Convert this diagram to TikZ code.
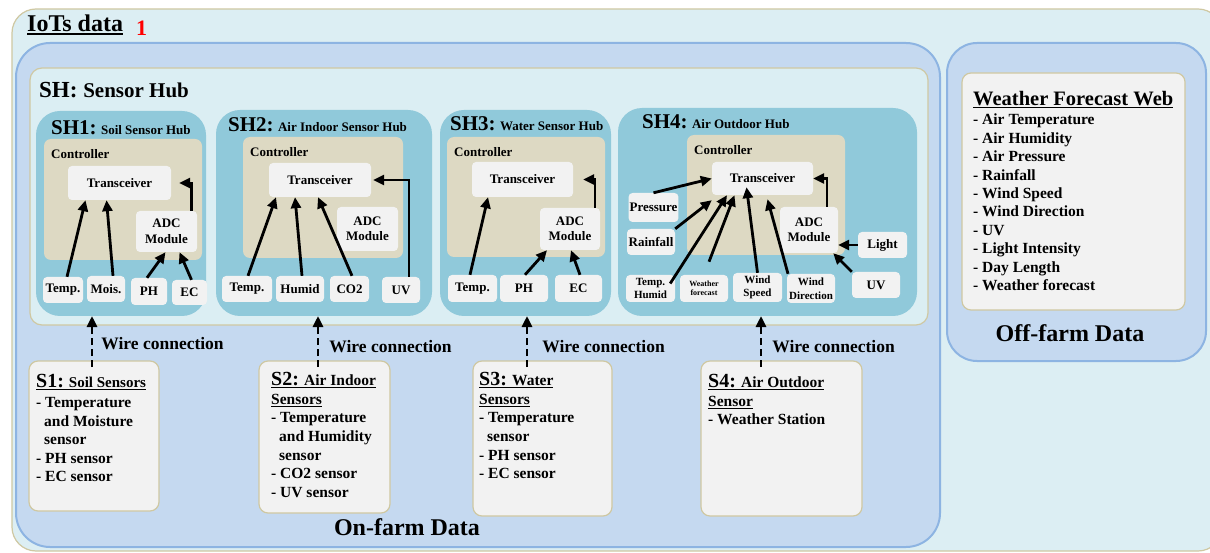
\documentclass[tikz,border=0pt]{standalone}
\usepackage{fontspec}
\setmainfont{Liberation Serif}
\usetikzlibrary{arrows.meta}

\definecolor{iotfill}{HTML}{DCEEF3}
\definecolor{tanline}{HTML}{CFC8A2}
\definecolor{farmfill}{HTML}{C5D9F0}
\definecolor{farmline}{HTML}{8DB4E2}
\definecolor{hubfill}{HTML}{DBEEF3}
\definecolor{hubteal}{HTML}{90C9DA}
\definecolor{ctrlfill}{HTML}{DDD9C3}
\definecolor{unitfill}{HTML}{F2F2F2}

\newcommand{\fsz}[2]{\fontsize{#1}{#2}\selectfont}
\newcommand{\uln}[2][1.2pt]{\vtop{\hbox{#2}\kern1.5pt\hrule height #1}}

\tikzset{
  area/.style={anchor=north west, inner sep=0pt, outer sep=0pt},
  iotbox/.style={area, fill=iotfill, draw=tanline, line width=1.2pt, rounded corners=24pt},
  farmbox/.style={area, fill=farmfill, draw=farmline, line width=2pt, rounded corners=34pt},
  hubarea/.style={area, fill=hubfill, draw=tanline, line width=1.2pt, rounded corners=12pt},
  hubbox/.style={area, fill=hubteal, rounded corners=24pt},
  ctrlbox/.style={area, fill=ctrlfill, rounded corners=7pt},
  sensbox/.style={area, fill=unitfill, draw=tanline, line width=1.2pt, rounded corners=9pt},
  unit/.style={fill=unitfill, rounded corners=4pt, inner sep=1pt, align=center, font=\bfseries\fsz{13}{15.5}},
  txt/.style={inner sep=0pt, font=\bfseries, align=left},
  arr/.style={-{Triangle[length=11pt,width=10pt]}, line width=2.8pt},
  wire/.style={-{Triangle[length=11pt,width=10pt]}, line width=2.8pt, dash pattern=on 7pt off 4pt},
}

\begin{document}
\begin{tikzpicture}[x=1pt, y=-1pt]
	\useasboundingbox[fill=white] (0,0) rectangle (1210,553);

	\node[iotbox, minimum width=1210pt, minimum height=542pt] (iot) at (12,9) {};
	\node[txt, anchor=west, font=\bfseries\fsz{24}{24}] (iottitle) at (27,25) {\uln[1.6pt]{IoTs data}};
	\node[txt, anchor=west, text=red, font=\bfseries\fsz{22}{22}] (iotnum) at (136,28) {1};

	\node[farmbox, minimum width=924pt, minimum height=504pt] (onfarm) at (16,43) {};
	\node[farmbox, minimum width=259pt, minimum height=318pt, rounded corners=30pt] (offfarm) at (947,43) {};

	\node[hubarea, minimum width=898pt, minimum height=257pt] (hub) at (30,68) {};
	\node[txt, anchor=west] (hubtitle) at (39,90) {\fsz{23}{23}SH: \fsz{21}{21}Sensor Hub};

	\node[hubbox, minimum width=170pt, minimum height=205pt] (sh1) at (36,111) {};
	\node[hubbox, minimum width=216pt, minimum height=206pt] (sh2) at (216,110) {};
	\node[hubbox, minimum width=171pt, minimum height=206pt] (sh3) at (440,110) {};
	\node[hubbox, minimum width=299pt, minimum height=208pt] (sh4) at (618,108) {};

	\node[txt, anchor=west] (sh1t) at (51,128) {\fsz{21}{21}SH1:\fsz{13}{13} Soil Sensor Hub};
	\node[txt, anchor=west] (sh2t) at (228,125) {\fsz{21}{21}SH2:\fsz{13}{13} Air Indoor Sensor Hub};
	\node[txt, anchor=west] (sh3t) at (450,124) {\fsz{21}{21}SH3:\fsz{13}{13} Water Sensor Hub};
	\node[txt, anchor=west] (sh4t) at (642,122) {\fsz{21}{21}SH4:\fsz{13}{13} Air Outdoor Hub};

	\node[ctrlbox, minimum width=158pt, minimum height=121pt] (ctrl1) at (44,139) {};
	\node[ctrlbox, minimum width=160pt, minimum height=121pt] (ctrl2) at (243,137) {};
	\node[ctrlbox, minimum width=158pt, minimum height=120pt] (ctrl3) at (447,137) {};
	\node[ctrlbox, minimum width=158pt, minimum height=120pt] (ctrl4) at (687,135) {};
	\foreach \c in {1,...,4}
		\node[txt, anchor=west, font=\bfseries\fsz{13}{13}] (ctrl\c t) at ([xshift=7pt,yshift=-15.5pt]ctrl\c.north west) {Controller};

	\node[unit, minimum width=103pt, minimum height=34pt] (trx1) at (119.5,183) {Transceiver};
	\node[unit, minimum width=102pt, minimum height=34pt] (trx2) at (320,180) {Transceiver};
	\node[unit, minimum width=101pt, minimum height=35pt] (trx3) at (522.5,179.5) {Transceiver};
	\node[unit, minimum width=101pt, minimum height=33pt] (trx4) at (762.5,178.5) {Transceiver};

	\node[unit, minimum width=61pt, minimum height=41pt] (adc1) at (166.5,231.5) {ADC\\Module};
	\node[unit, minimum width=61pt, minimum height=44pt] (adc2) at (367.5,229) {ADC\\Module};
	\node[unit, minimum width=60pt, minimum height=42pt] (adc3) at (570,229) {ADC\\Module};
	\node[unit, minimum width=58pt, minimum height=46pt] (adc4) at (809,230) {ADC\\Module};

	\node[unit, minimum width=40pt, minimum height=26pt] (temp1) at (63,290) {Temp.};
	\node[unit, minimum width=38pt, minimum height=26pt] (mois1) at (106,289) {Mois.};
	\node[unit, minimum width=36pt, minimum height=27pt] (ph1) at (149,291.5) {PH};
	\node[unit, minimum width=35pt, minimum height=25pt] (ec1) at (189.5,292.5) {EC};

	\node[unit, minimum width=50pt, minimum height=26pt] (temp2) at (247,289) {Temp.};
	\node[unit, minimum width=48pt, minimum height=26pt] (humid2) at (300,289) {Humid};
	\node[unit, minimum width=39pt, minimum height=26pt] (co2) at (349.5,289) {CO2};
	\node[unit, minimum width=38pt, minimum height=26pt] (uv2) at (401,290) {UV};

	\node[unit, minimum width=49pt, minimum height=27pt] (temp3) at (472.5,288.5) {Temp.};
	\node[unit, minimum width=48pt, minimum height=27pt] (ph3) at (524,288.5) {PH};
	\node[unit, minimum width=47pt, minimum height=27pt] (ec3) at (578.5,288.5) {EC};

	\node[unit, minimum width=49pt, minimum height=29pt] (press4) at (653.5,207.5) {Pressure};
	\node[unit, minimum width=48pt, minimum height=26pt] (rain4) at (651,242) {Rainfall};
	\node[unit, minimum width=49pt, minimum height=26pt] (light4) at (882.5,245) {Light};
	\node[unit, minimum width=49pt, minimum height=27pt, font=\bfseries\fsz{11}{13}] (temph4) at (650.5,288.5) {Temp.\\Humid};
	\node[unit, minimum width=48pt, minimum height=27pt, font=\bfseries\fsz{8}{9}] (wfc4) at (704,288.5) {Weather\\forecast};
	\node[unit, minimum width=49pt, minimum height=29pt, font=\bfseries\fsz{11}{13.5}] (wspd4) at (757.5,287.5) {Wind\\Speed};
	\node[unit, minimum width=48pt, minimum height=29pt, font=\bfseries\fsz{11}{13.5}] (wdir4) at (811,288.5) {Wind\\Direction};
	\node[unit, minimum width=48pt, minimum height=26pt] (uv4) at (876,285) {UV};

	\draw[arr] ([xshift=4pt]temp1.north) -- ([xshift=-34pt]trx1.south);
	\draw[arr] ([xshift=7pt]mois1.north) -- ([xshift=-13pt]trx1.south);
	\draw[arr] ([xshift=-2pt]ph1.north) -- ([xshift=-1pt]adc1.south);
	\draw[arr] ([xshift=2pt]ec1.north) -- ([xshift=13pt]adc1.south);
	\draw[arr] ([xshift=25pt]adc1.north) |- ([xshift=8pt]trx1.east);

	\draw[arr] ([xshift=1pt]temp2.north) -- ([xshift=-44pt]trx2.south);
	\draw[arr] ([xshift=2pt]humid2.north) -- ([xshift=-25pt]trx2.south);
	\draw[arr] ([xshift=2.5pt]co2.north) -- ([xshift=-2pt]trx2.south);
	\draw[arr] ([xshift=8pt]uv2.north) |- ([xshift=2pt]trx2.east);

	\draw[arr] ([xshift=-2.5pt]temp3.north) -- ([xshift=-34.5pt]trx3.south);
	\draw[arr] ([xshift=1pt]ph3.north) -- ([xshift=-23pt]adc3.south);
	\draw[arr] ([xshift=1.5pt]ec3.north) -- ([xshift=1pt]adc3.south);
	\draw[arr] ([xshift=25pt]adc3.north) |- ([xshift=10pt]trx3.east);

	\draw[arr] (press4.north) -- (trx4.west);
	\draw[arr] (rain4.north east) -- ([yshift=-5pt]trx4.south west);
	\draw[arr] ([xshift=-5pt,yshift=5pt]temph4.east) -- ([xshift=-35.5pt]trx4.south);
	\draw[arr, shorten <=14pt] (wfc4.north) -- ([xshift=-28pt]trx4.south);
	\draw[arr] (wspd4.north) -- ([xshift=-16pt,yshift=8pt]trx4.south);
	\draw[arr] ([xshift=-23pt]wdir4.north) -- ([xshift=5pt,yshift=-4pt]trx4.south);
	\draw[arr] (light4.west) -- (light4.west -| adc4.east);
	\draw[arr] (uv4.north west) -- ([xshift=-5pt]adc4.south east);
	\draw[arr] ([xshift=18pt]adc4.north) |- (trx4.east);

	\node[sensbox, minimum width=130pt, minimum height=150pt] (s1) at (29,361) {};
	\node[sensbox, minimum width=131pt, minimum height=152pt] (s2) at (259,361) {};
	\node[sensbox, minimum width=139pt, minimum height=155pt] (s3) at (473,361) {};
	\node[sensbox, minimum width=161pt, minimum height=155pt] (s4) at (701,361) {};

	\node[txt, anchor=north west, font=\bfseries\fsz{15.5}{18.5}] (s1t) at ([xshift=7pt,yshift=-13pt]s1.north west)
		{\uln{\fsz{20}{20}S1:\fsz{15}{15} Soil Sensors}\\[2pt]- Temperature\\\hspace*{8pt}and Moisture\\\hspace*{8pt}sensor\\- PH sensor\\- EC sensor};
	\node[txt, anchor=north west, font=\bfseries\fsz{15.5}{18.7}] (s2t) at ([xshift=12pt,yshift=-11pt]s2.north west)
		{\uln{\fsz{20}{20}S2:\fsz{15.5}{15.5} Air Indoor}\\\uln{Sensors}\\- Temperature\\\hspace*{8pt}and Humidity\\\hspace*{8pt}sensor\\- CO2 sensor\\- UV sensor};
	\node[txt, anchor=north west, font=\bfseries\fsz{15.5}{18.7}] (s3t) at ([xshift=6pt,yshift=-11pt]s3.north west)
		{\uln{\fsz{20}{20}S3:\fsz{15.5}{15.5} Water}\\\uln{Sensors}\\- Temperature\\\hspace*{8pt}sensor\\- PH sensor\\- EC sensor};
	\node[txt, anchor=north west, font=\bfseries\fsz{15.5}{18.7}] (s4t) at ([xshift=7pt,yshift=-13pt]s4.north west)
		{\uln{\fsz{20}{20}S4:\fsz{15.5}{15.5} Air Outdoor}\\\uln{Sensor}\\- Weather Station};

	\draw[wire] ([xshift=-2pt,yshift=-6pt]s1.north) -- ([xshift=-2pt]s1.north |- sh1.south)
		node[txt, pos=0.45, anchor=west, xshift=8pt, font=\bfseries\fsz{17.5}{18}] (w1) {Wire connection};
	\draw[wire] ([xshift=-6.5pt,yshift=-6pt]s2.north) -- ([xshift=-6.5pt]s2.north |- sh2.south)
		node[txt, pos=0.4, anchor=west, xshift=10pt, font=\bfseries\fsz{17.5}{18}] (w2) {Wire connection};
	\draw[wire] ([xshift=-15.5pt,yshift=-6pt]s3.north) -- ([xshift=-15.5pt]s3.north |- sh3.south)
		node[txt, pos=0.4, anchor=west, xshift=14pt, font=\bfseries\fsz{17.5}{18}] (w3) {Wire connection};
	\draw[wire] ([xshift=-20.5pt,yshift=-6pt]s4.north) -- ([xshift=-20.5pt]s4.north |- sh4.south)
		node[txt, pos=0.4, anchor=west, xshift=10pt, font=\bfseries\fsz{17.5}{18}] (w4) {Wire connection};

	\node[txt, font=\bfseries\fsz{24}{24}] (ont) at (407,527) {On-farm Data};

	\node[sensbox, minimum width=223pt, minimum height=237pt] (web) at (962,73) {};
	\node[txt, anchor=north west, font=\bfseries\fsz{15.5}{18.4}] (webt) at ([xshift=11pt,yshift=-18pt]web.north west)
		{\uln{\fsz{20.5}{21}Weather Forecast Web}\\[1pt]- Air Temperature\\- Air Humidity\\- Air Pressure\\- Rainfall\\- Wind Speed\\- Wind Direction\\- UV\\- Light Intensity\\- Day Length\\- Weather forecast};
	\node[txt, font=\bfseries\fsz{24}{24}] (offt) at (1070,333) {Off-farm Data};
\end{tikzpicture}
\end{document}
